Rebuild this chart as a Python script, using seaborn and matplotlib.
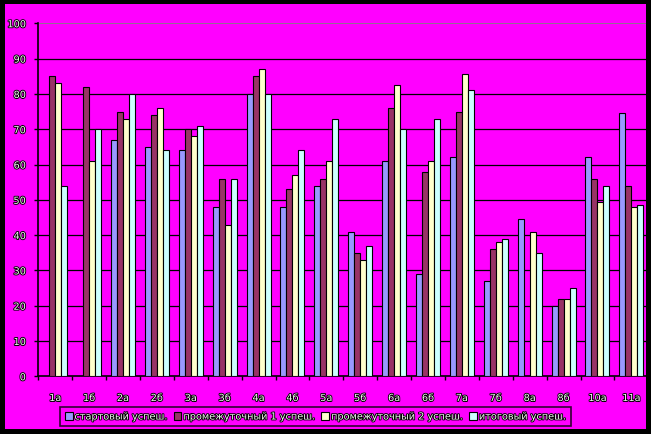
import numpy as np
import pandas as pd
import seaborn as sns
import matplotlib.pyplot as plt
import matplotlib.patheffects as pe
from matplotlib.patches import Rectangle

# DATA ────────────────────────────────────────────────────────────────────────
classes = ["1а", "1б", "2а", "2б", "3а", "3б", "4а", "4б", "5а", "5б",
           "6а", "6б", "7а", "7б", "8а", "8б", "10а", "11а"]
series = ["стартовый успеш.", "промежуточный 1 успеш.",
          "промежуточный 2 успеш.", "итоговый успеш."]

start = [np.nan, np.nan, 67, 65, 64, 48, 80, 48, 54, 41,
         61, 29, 62, 27, 44.5, 20, 62, 74.5]
mid1 = [85, 82, 75, 74, 70, 56, 85, 53, 56, 35,
        76, 58, 75, 36, np.nan, 22, 56, 54]
mid2 = [83, 61, 73, 76, 68, 43, 87, 57, 61, 33,
        82.5, 61, 85.5, 38, 41, 22, 49.5, 48]
final = [54, 70, 80, 64, 71, 56, 80, 64, 73, 37,
         70, 73, 81, 39, 35, 25, 54, 48.5]

colors = ["#9999FF", "#993366", "#FFFFCC", "#CCFFFF"]
PINK = "#FF00FF"

df = pd.DataFrame({"класс": classes * 4,
                   "серия": np.repeat(series, len(classes)),
                   "value": start + mid1 + mid2 + final})

# FIGURE ──────────────────────────────────────────────────────────────────────
sns.set_style("white")
plt.rcParams["font.family"] = ["DejaVu Sans"]

W, H = 651, 435
fig = plt.figure(figsize=(W / 100, H / 100), dpi=100, facecolor=PINK)
ax = fig.add_axes([38.3 / W, 57.7 / H, 610 / W, 353 / H])
ax.set_facecolor(PINK)

sns.barplot(data=df, x="класс", y="value", hue="серия", order=classes,
            hue_order=series, palette=colors, width=0.71, errorbar=None,
            edgecolor="black", linewidth=0.8, saturation=1, ax=ax, zorder=3)

ax.set_xlim(-0.5, len(classes) - 0.5)
ax.set_ylim(0, 100)
ax.set_xlabel(""); ax.set_ylabel("")

# gridlines: black, top one grey
for v in range(10, 100, 10):
    ax.axhline(v, color="black", lw=0.9, zorder=1)
ax.axhline(100, color="#808080", lw=1.2, zorder=1)

for s in ["top", "right"]:
    ax.spines[s].set_visible(False)
for s in ["left", "bottom"]:
    ax.spines[s].set_color("black")
    ax.spines[s].set_linewidth(1.2)

txt_fx = [pe.withStroke(linewidth=1.3, foreground="black")]

ax.set_yticks(range(0, 101, 10))
ax.tick_params(axis="y", length=3, width=1, color="black", pad=6,
               labelsize=7, labelcolor="#f4f4f4", left=True)
ax.set_xticks(range(len(classes)))
ax.set_xticklabels(classes)
ax.set_xticks(np.arange(-0.5, len(classes), 1), minor=True)
ax.tick_params(axis="x", which="major", length=0, pad=12,
               labelsize=7, labelcolor="#f4f4f4")
ax.tick_params(axis="x", which="minor", length=3, width=1,
               color="black", bottom=True)
for lab in ax.get_xticklabels() + ax.get_yticklabels():
    lab.set_path_effects(txt_fx)

# LEGEND ──────────────────────────────────────────────────────────────────────
handles, labels = ax.get_legend_handles_labels()
ax.get_legend().remove()
leg = fig.legend(handles, labels, loc="center", ncol=4,
                 bbox_to_anchor=(315.5 / W, 17.5 / H), fontsize=7,
                 frameon=True, fancybox=False, facecolor=PINK,
                 edgecolor="black", handlelength=0.8, handleheight=0.8,
                 handletextpad=0.2, columnspacing=0.6, borderpad=0.5,
                 borderaxespad=0)
leg.get_frame().set_linewidth(1.2)
for t in leg.get_texts():
    t.set_color("#f4f4f4")
    t.set_path_effects(txt_fx)

# black outer frame
fig.patches.append(Rectangle((0, 0), 1, 1, transform=fig.transFigure,
                             fill=False, edgecolor="black", lw=7.2,
                             zorder=10))

fig.savefig("out.png", dpi=100, facecolor=PINK)
